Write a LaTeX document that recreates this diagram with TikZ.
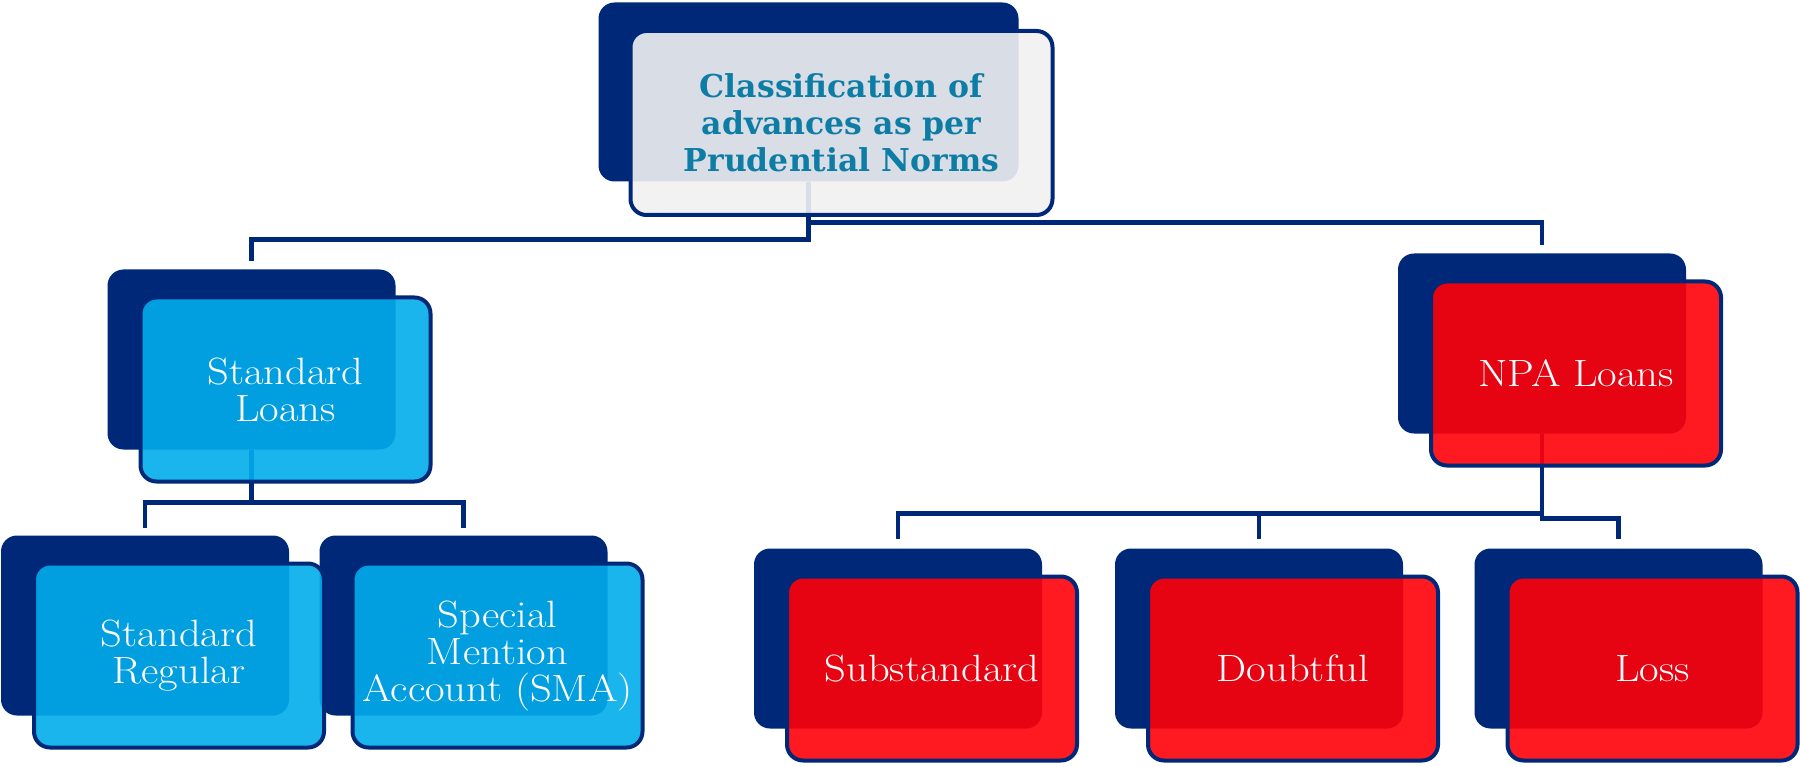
\documentclass[tikz,border=0pt]{standalone}
\usepackage{fontspec}
\newfontfamily\headfont{DejaVu Serif}
\newfontfamily\cardfont{Latin Modern Roman}[FakeStretch=1.12]
\definecolor{navy}{RGB}{0,40,120}
\definecolor{headtext}{RGB}{14,125,165}
\definecolor{greyfill}{RGB}{241,241,241}
\definecolor{skyfill}{RGB}{2,173,236}
\definecolor{redfill}{RGB}{255,0,8}

\begin{document}
\begin{tikzpicture}[x=1pt,y=1pt,yscale=-1,
  backcard/.style={fill=navy,rounded corners=16pt,inner sep=0pt,minimum width=288pt,minimum height=180pt},
  frontcard/.style={draw=navy,line width=4pt,rounded corners=16pt,fill opacity=0.9,text opacity=1,inner sep=0pt,
    minimum width=290pt,minimum height=184pt,align=center,text=white,font=\cardfont\fontsize{38}{37}\selectfont},
  bluecard/.style={frontcard,fill=skyfill},
  redcard/.style={frontcard,fill=redfill},
  conn/.style={draw=navy,line width=4.5pt}]
\useasboundingbox (0,0) rectangle (1800,767);

%Back cards
\node [backcard,minimum width=420pt,minimum height=179pt] (topback) at (808.5,92) {};
\node [backcard] (slback) at (251.5,359.5) {};
\node [backcard] (npaback) at (1542,343.5) {};
\node [backcard] (srback) at (145,625.5) {};
\node [backcard] (smaback) at (463.5,625.5) {};
\node [backcard] (subback) at (898,638.5) {};
\node [backcard] (doubtback) at (1259,638.5) {};
\node [backcard] (lossback) at (1618.5,638.5) {};

%Connectors
\draw [conn,shorten >=8pt] (topback.south) -- ++(0,58) -| (slback.north) ;
\draw [conn,shorten >=8pt] (topback.south) -- ++(0,41) -| (npaback.north) ;
\draw [conn,shorten >=7pt] (slback.south) -- ++(0,53) -| (srback.north) ;
\draw [conn,shorten >=7pt] (slback.south) -- ++(0,53) -| (smaback.north) ;
\draw [conn,shorten >=9pt] (npaback.south) -- ++(0,80) -| (subback.north) ;
\draw [conn,shorten >=9pt] (npaback.south) -- ++(0,80) -| (doubtback.north) ;
\draw [conn,shorten >=9pt] (npaback.south) -- ++(0,85) -| (lossback.north) ;

%Front cards
\node [frontcard,fill=greyfill,minimum width=422pt,text=headtext,
  font=\headfont\bfseries\fontsize{31.5}{37}\selectfont] (top) at ([shift={(33,31)}]topback.center)
  {Classification of\\advances as per\\Prudential Norms};
\node [bluecard] (sl) at ([shift={(34,30)}]slback.center) {Standard\\Loans};
\node [redcard] (npa) at ([shift={(34,30)}]npaback.center) {NPA Loans};
\node [bluecard] (sr) at ([shift={(34,30)}]srback.center) {Standard\\Regular};
\node [bluecard] (sma) at ([shift={(34,30)}]smaback.center) {Special\\Mention\\Account (SMA)};
\node [redcard] (sub) at ([shift={(34,30)}]subback.center) {Substandard};
\node [redcard] (doubt) at ([shift={(34,30)}]doubtback.center) {Doubtful};
\node [redcard] (loss) at ([shift={(34,30)}]lossback.center) {Loss};
\end{tikzpicture}
\end{document}
